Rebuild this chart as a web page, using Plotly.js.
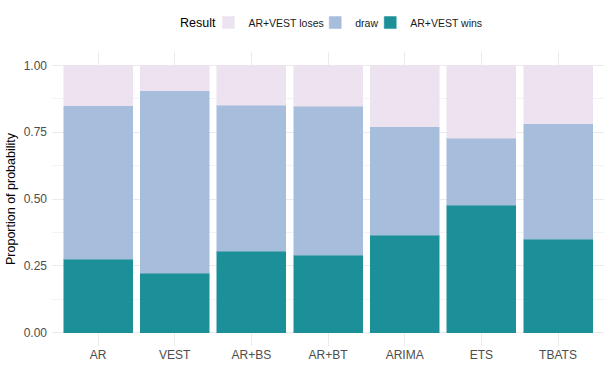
<!DOCTYPE html>
<html>
<head>
<meta charset="utf-8">
<script src="https://cdn.plot.ly/plotly-3.0.1.min.js"></script>
<style>
  html, body { margin: 0; padding: 0; background: #fff; }
  #chart { width: 608px; height: 384px; }
</style>
</head>
<body>
<div id="chart"></div>
<script>
// categories and the three stacked shares
const models = ["AR", "VEST", "AR+BS", "AR+BT", "ARIMA", "ETS", "TBATS"];
const wins = [0.275, 0.223, 0.304, 0.289, 0.364, 0.477, 0.349];
const draw = [0.573, 0.682, 0.547, 0.558, 0.407, 0.250, 0.432];
const loses = [0.152, 0.095, 0.149, 0.153, 0.229, 0.273, 0.219];

const colWins = "#1C9099";
const colDraw = "#A6BDDB";
const colLoses = "#ECE2F0";

// one legend box per entry so the key can sit as tight as ggplot's
const mkBar = (name, vals, col, leg) => ({
    type: "bar",
    name: name,
    x: models,
    y: vals,
    width: 0.9,
    legend: leg,
    marker: { color: col, line: { color: col, width: 0.5 } },
    hoverinfo: "x+y+name"
});

const traces = [
    mkBar("AR+VEST wins", wins, colWins, "legend3"),
    mkBar("draw", draw, colDraw, "legend2"),
    mkBar("AR+VEST loses", loses, colLoses, "legend")
];

const legBox = (x) => ({
    orientation: "h",
    x: x,
    xanchor: "left",
    y: 1.1,
    yanchor: "middle",
    font: { size: 10.5, color: "#1a1a1a" },
    itemwidth: 30,
    bgcolor: "rgba(0,0,0,0)"
});

const layout = {
    width: 608,
    height: 384,
    barmode: "stack",
    paper_bgcolor: "#fff",
    plot_bgcolor: "#fff",
    font: { family: "Liberation Sans, Arial, sans-serif", size: 12, color: "#4d4d4d" },
    margin: { l: 51.5, r: 4, t: 52, b: 38 },
    showlegend: true,
    legend: legBox(0.2833),
    legend2: legBox(0.4769),
    legend3: legBox(0.5765),
    annotations: [{
        text: "Result",
        xref: "paper", yref: "paper",
        x: 0.229, xanchor: "left",
        y: 1.1, yanchor: "middle",
        showarrow: false,
        font: { size: 12.5, color: "#000" }
    }],
    xaxis: {
        range: [-0.6, 6.6],
        showgrid: true,
        gridcolor: "#EBEBEB",
        gridwidth: 1,
        zeroline: false,
        showline: false,
        ticks: "",
        tickfont: { size: 12, color: "#4d4d4d" },
        fixedrange: true
    },
    yaxis: {
        range: [-0.05, 1.05],
        tickvals: [0, 0.25, 0.5, 0.75, 1],
        ticktext: ["0.00", "0.25", "0.50", "0.75", "1.00"],
        showgrid: true,
        gridcolor: "#EBEBEB",
        gridwidth: 1,
        minor: { tickvals: [0.125, 0.375, 0.625, 0.875], showgrid: true, gridcolor: "#F3F3F3", gridwidth: 1 },
        zeroline: false,
        showline: false,
        ticks: "",
        ticklabelstandoff: 4,
        tickfont: { size: 12, color: "#4d4d4d" },
        title: { text: "Proportion of probability", font: { size: 12.5, color: "#000" }, standoff: 5 },
        fixedrange: true
    }
};

Plotly.newPlot("chart", traces, layout, { displayModeBar: false, staticPlot: true });
</script>
</body>
</html>
